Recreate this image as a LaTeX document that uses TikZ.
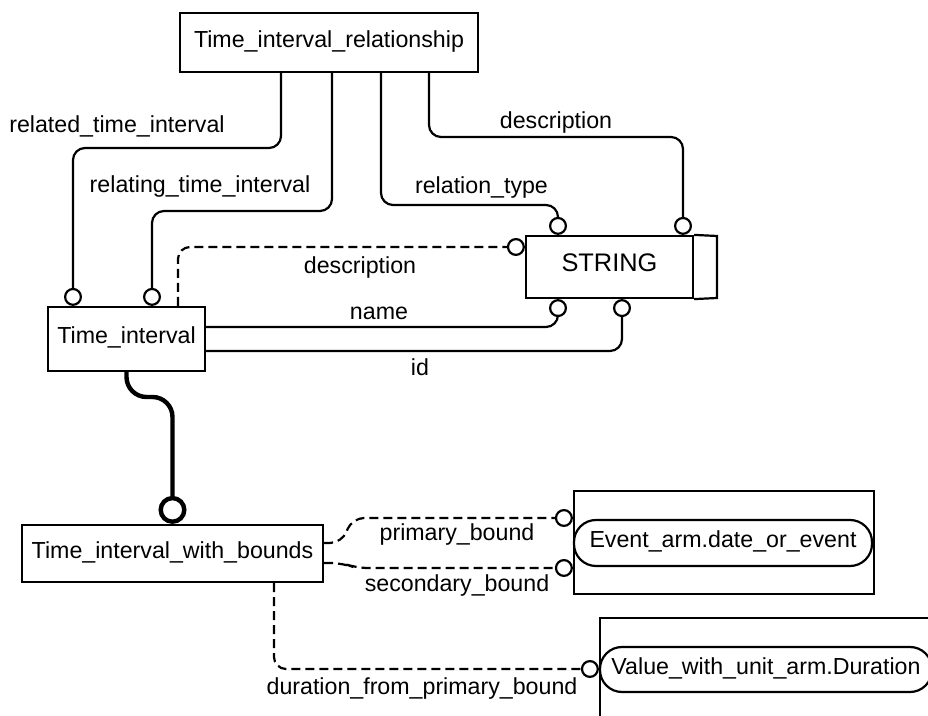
\documentclass[tikz,border=0pt]{standalone}
\usepackage{fontspec}
\setmainfont{Liberation Sans}
\usetikzlibrary{arrows.meta}
\begin{document}
\begin{tikzpicture}[x=0.5pt,y=-0.5pt,
  every node/.style={font=\fontsize{11.6}{14}\selectfont},
  ent/.style={draw, line width=1.1pt, inner sep=0pt, text height=0.75em, text depth=0.25em},
  sel/.style={draw, line width=1.1pt, rounded corners=11pt, inner sep=0pt, text height=0.75em, text depth=0.25em},
  conn/.style={line width=1.1pt, rounded corners=6pt},
  dconn/.style={conn, dash pattern=on 4.5pt off 2.5pt},
  oc/.style={-{Circle[open,length=9pt,width=9pt]}},
  lbl/.style={anchor=base, inner sep=0pt}]
\useasboundingbox (0,0) rectangle (928,716);
\fill[white] (0,0) rectangle (928,716);

% entities
\node[ent, minimum width=149pt, minimum height=29.5pt] (tir) at (329,42.5) {Time\_interval\_relationship};
\node[ent, minimum width=83.5pt, minimum height=31pt, font=\fontsize{12.7}{15}\selectfont] (str) at (609.5,267) {STRING};
\draw[line width=1.1pt] (str.north east) -- (717,236) -- (717,298) -- (str.south east);
\node[ent, minimum width=78.5pt, minimum height=32pt] (ti) at (126.5,339) {Time\_interval};
\node[ent, minimum width=150.5pt, minimum height=28.5pt] (tiwb) at (172.5,553.5) {Time\_interval\_with\_bounds};
\node[ent, minimum width=150pt, minimum height=51.5pt] (evbox) at (724,542.5) {};
\node[sel, minimum width=149pt, minimum height=23pt] (ev) at (723,543) {Event\_arm.date\_or\_event};
\node[ent, minimum width=180pt, minimum height=61pt] (valbox) at (780,679) {};
\node[sel, minimum width=166pt, minimum height=22.5pt] (val) at (766,669.5) {Value\_with\_unit\_arm.Duration};

% connectors
\draw[conn, oc] (tir.south -| 281,0) |- (73,148) -- (ti.north -| 73,0);
\draw[conn, oc] (tir.south -| 332,0) |- (152,211) -- (ti.north -| 152,0);
\draw[conn, oc] (tir.south -| 381,0) |- (558,205) -- (str.north -| 558,0);
\draw[conn, oc] (tir.south -| 429,0) |- (683,137) -- (str.north -| 683,0);
\draw[dconn, oc] (ti.north -| 178,0) |- (str.west |- 0,247);
\draw[conn, oc] (ti.east |- 0,327) -| (str.south -| 558,0);
\draw[conn, oc] (ti.east |- 0,351) -| (str.south -| 622,0);
\draw[line width=2.2pt, rounded corners=10pt, -{Circle[open,length=14pt,width=14pt]}]
  (ti.south) -- (126.5,397) -- (172.5,397) -- (tiwb.north);
\draw[dconn, oc] (tiwb.east |- 0,543) -- (342,543) -- (352,518) -- (evbox.west |- 0,518);
\draw[dconn, oc] (tiwb.east |- 0,563) -- (342,563) -- (356,568) -- (evbox.west |- 0,568);
\draw[dconn, oc] (tiwb.south -| 274,0) |- (valbox.west |- 0,669);

% labels
\node[lbl] (l1) at (117,133) {related\_time\_interval};
\node[lbl] (l2) at (200,193) {relating\_time\_interval};
\node[lbl] (l3) at (360,274) {description};
\node[lbl] (l4) at (379,320) {name};
\node[lbl] (l5) at (420,376) {id};
\node[lbl] (l6) at (481.5,194) {relation\_type};
\node[lbl] (l7) at (556,129) {description};
\node[lbl] (l8) at (457,541) {primary\_bound};
\node[lbl] (l9) at (457,592) {secondary\_bound};
\node[lbl] (l10) at (422,695) {duration\_from\_primary\_bound};
\end{tikzpicture}
\end{document}
